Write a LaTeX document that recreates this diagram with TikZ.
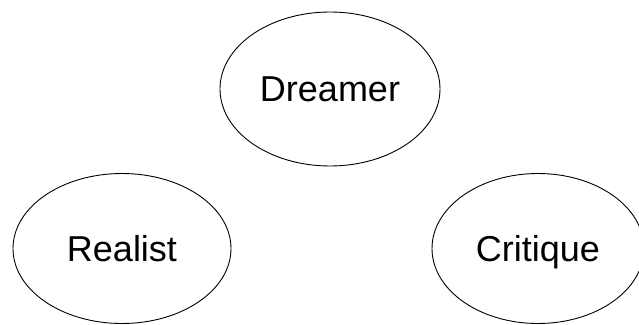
\documentclass[tikz,border=0pt]{standalone}
\usepackage{fontspec}
\setmainfont{Liberation Sans}
\usetikzlibrary{shapes.geometric}
\tikzset{
	role/.style={draw, ellipse, line width=0.9pt, font=\fontsize{36}{40}\selectfont, inner sep=0pt, text depth=0pt}
}
\begin{document}
\begin{tikzpicture}[x=1pt,y=-1pt]
		\useasboundingbox (0,0) rectangle (639,324);
		\clip (0,0) rectangle (639,324);
		\node[role, minimum width=220pt, minimum height=154pt] (dreamer) at (330,89) {Dreamer};
		\node[role, minimum width=218pt, minimum height=150pt] (realist) at (122,248.5) {Realist};
		\node[role, minimum width=212pt, minimum height=150pt] (critique) at (538,248.5) {Critique};
		\end{tikzpicture}
\end{document}
